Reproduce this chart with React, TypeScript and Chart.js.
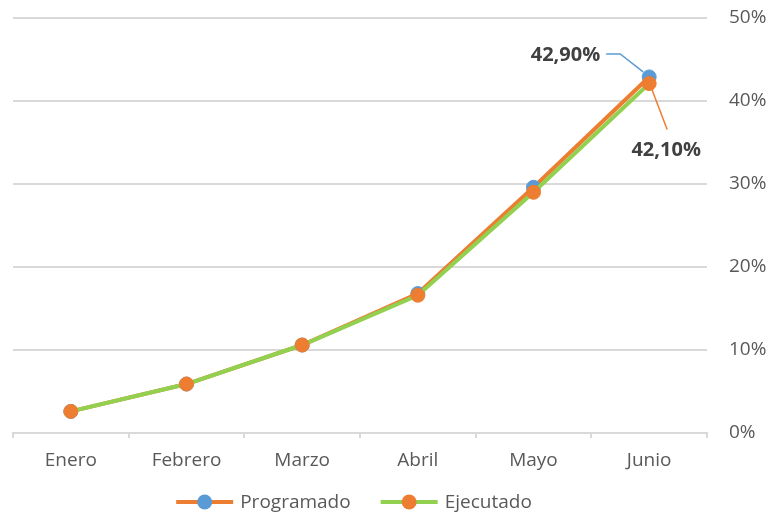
import React, { useEffect, useRef } from "react";
import { Chart, registerables } from "chart.js";

Chart.register(...registerables);

const categories = ["Enero", "Febrero", "Marzo", "Abril", "Mayo", "Junio"];
const programado = [2.6, 5.9, 10.6, 16.8, 29.6, 42.9];
const ejecutado = [2.6, 5.9, 10.6, 16.6, 29.0, 42.1];
const yTickValues = [0, 10, 20, 30, 40, 50];
const seriesNames = ["Programado", "Ejecutado"];

const ORANGE = "#ED7D31";
const BLUE = "#5B9BD5";
const GREEN = "#92D050";
const GRID = "#D9D9D9";
const TEXT = "#595959";
const FONT = "'Open Sans', sans-serif";

const fmt = (v: number) => v.toFixed(2).replace(".", ",") + "%";

const labelPlugin = {
  id: "endLabels",
  afterDatasetsDraw(chart: any) {
    const ctx = chart.ctx;
    const metaP = chart.getDatasetMeta(0);
    const metaE = chart.getDatasetMeta(1);
    const last = categories.length - 1;
    const pP = metaP.data[last];
    const pE = metaE.data[last];
    ctx.save();
    ctx.font = `bold 20px ${FONT}`;
    ctx.fillStyle = "#404040";
    ctx.textBaseline = "middle";
    // Programado label (upper left)
    ctx.strokeStyle = BLUE;
    ctx.lineWidth = 1.5;
    ctx.beginPath();
    ctx.moveTo(pP.x - 43, pP.y - 23);
    ctx.lineTo(pP.x - 29, pP.y - 23);
    ctx.lineTo(pP.x - 6, pP.y - 5);
    ctx.stroke();
    ctx.textAlign = "right";
    ctx.fillText(fmt(programado[last]), pP.x - 49, pP.y - 22);
    // Ejecutado label (below right)
    ctx.strokeStyle = ORANGE;
    ctx.beginPath();
    ctx.moveTo(pE.x + 2, pE.y + 4);
    ctx.lineTo(pE.x + 18, pE.y + 46);
    ctx.stroke();
    ctx.textAlign = "center";
    ctx.fillText(fmt(ejecutado[last]), pE.x + 17, pE.y + 67);
    ctx.restore();
  },
};

const legendPlugin = {
  id: "customLegend",
  afterDraw(chart: any) {
    const ctx = chart.ctx;
    const items = [
      { text: seriesNames[0], line: ORANGE, dot: BLUE },
      { text: seriesNames[1], line: GREEN, dot: ORANGE },
    ];
    const markW = 57;
    const gap = 7;
    const itemGap = 30;
    ctx.save();
    ctx.font = `19px ${FONT}`;
    const widths = items.map((it) => markW + gap + ctx.measureText(it.text).width);
    const total = widths.reduce((a, b) => a + b, 0) + itemGap * (items.length - 1);
    let x = 354 - total / 2;
    const y = 502;
    items.forEach((it, i) => {
      ctx.strokeStyle = it.line;
      ctx.lineWidth = 4;
      ctx.beginPath();
      ctx.moveTo(x, y);
      ctx.lineTo(x + markW, y);
      ctx.stroke();
      ctx.fillStyle = it.dot;
      ctx.beginPath();
      ctx.arc(x + markW / 2, y, 7.5, 0, Math.PI * 2);
      ctx.fill();
      ctx.fillStyle = TEXT;
      ctx.textAlign = "left";
      ctx.textBaseline = "middle";
      ctx.fillText(it.text, x + markW + gap, y + 1);
      x += widths[i] + itemGap;
    });
    ctx.restore();
  },
};

export default function App() {
  const ref = useRef<HTMLCanvasElement | null>(null);
  useEffect(() => {
    if (!ref.current) return;
    const chart = new Chart(ref.current, {
      type: "line",
      data: {
        labels: categories,
        datasets: [
          {
            label: seriesNames[0],
            data: programado,
            borderColor: ORANGE,
            backgroundColor: BLUE,
            pointBackgroundColor: BLUE,
            pointBorderColor: BLUE,
            pointRadius: 7,
            pointBorderWidth: 1,
            borderWidth: 4,
            tension: 0,
            order: 2,
          },
          {
            label: seriesNames[1],
            data: ejecutado,
            borderColor: GREEN,
            backgroundColor: ORANGE,
            pointBackgroundColor: ORANGE,
            pointBorderColor: ORANGE,
            pointRadius: 7,
            pointBorderWidth: 1,
            borderWidth: 4,
            tension: 0,
            order: 1,
          },
        ],
      },
      options: {
        responsive: false,
        animation: false,
        layout: { padding: { left: 13, top: 18, right: 0, bottom: 38 } },
        plugins: {
          legend: { display: false },
          tooltip: { enabled: false },
        },
        scales: {
          x: {
            offset: true,
            grid: {
              display: true,
              drawOnChartArea: false,
              offset: true,
              drawTicks: true,
              tickLength: 5,
              color: GRID,
              lineWidth: 2,
            },
            border: { display: true, color: GRID, width: 2 },
            ticks: {
              color: TEXT,
              font: { family: FONT, size: 19 },
              padding: 11,
              maxRotation: 0,
            },
            afterFit(scale: any) {
              scale.height = 45;
              scale.paddingLeft = 0;
              scale.paddingRight = 0;
            },
          },
          y: {
            position: "right",
            min: 0,
            max: 50,
            afterBuildTicks(scale: any) {
              scale.ticks = yTickValues.map((v) => ({ value: v }));
            },
            grid: { color: GRID, lineWidth: 2, drawTicks: false },
            border: { display: false },
            ticks: {
              color: TEXT,
              font: { family: FONT, size: 19 },
              padding: 22,
              callback: (v: any) => v + "%",
            },
            afterFit(scale: any) {
              scale.width = 64;
              scale.paddingTop = 0;
              scale.paddingBottom = 0;
            },
          },
        },
      },
      plugins: [labelPlugin, legendPlugin],
    });
    return () => chart.destroy();
  }, []);
  return (
    <div style={{ position: "fixed", left: 0, top: 0, width: 771, height: 516, background: "#fff" }}>
      <canvas ref={ref} width={771} height={516} style={{ width: 771, height: 516 }} />
    </div>
  );
}
